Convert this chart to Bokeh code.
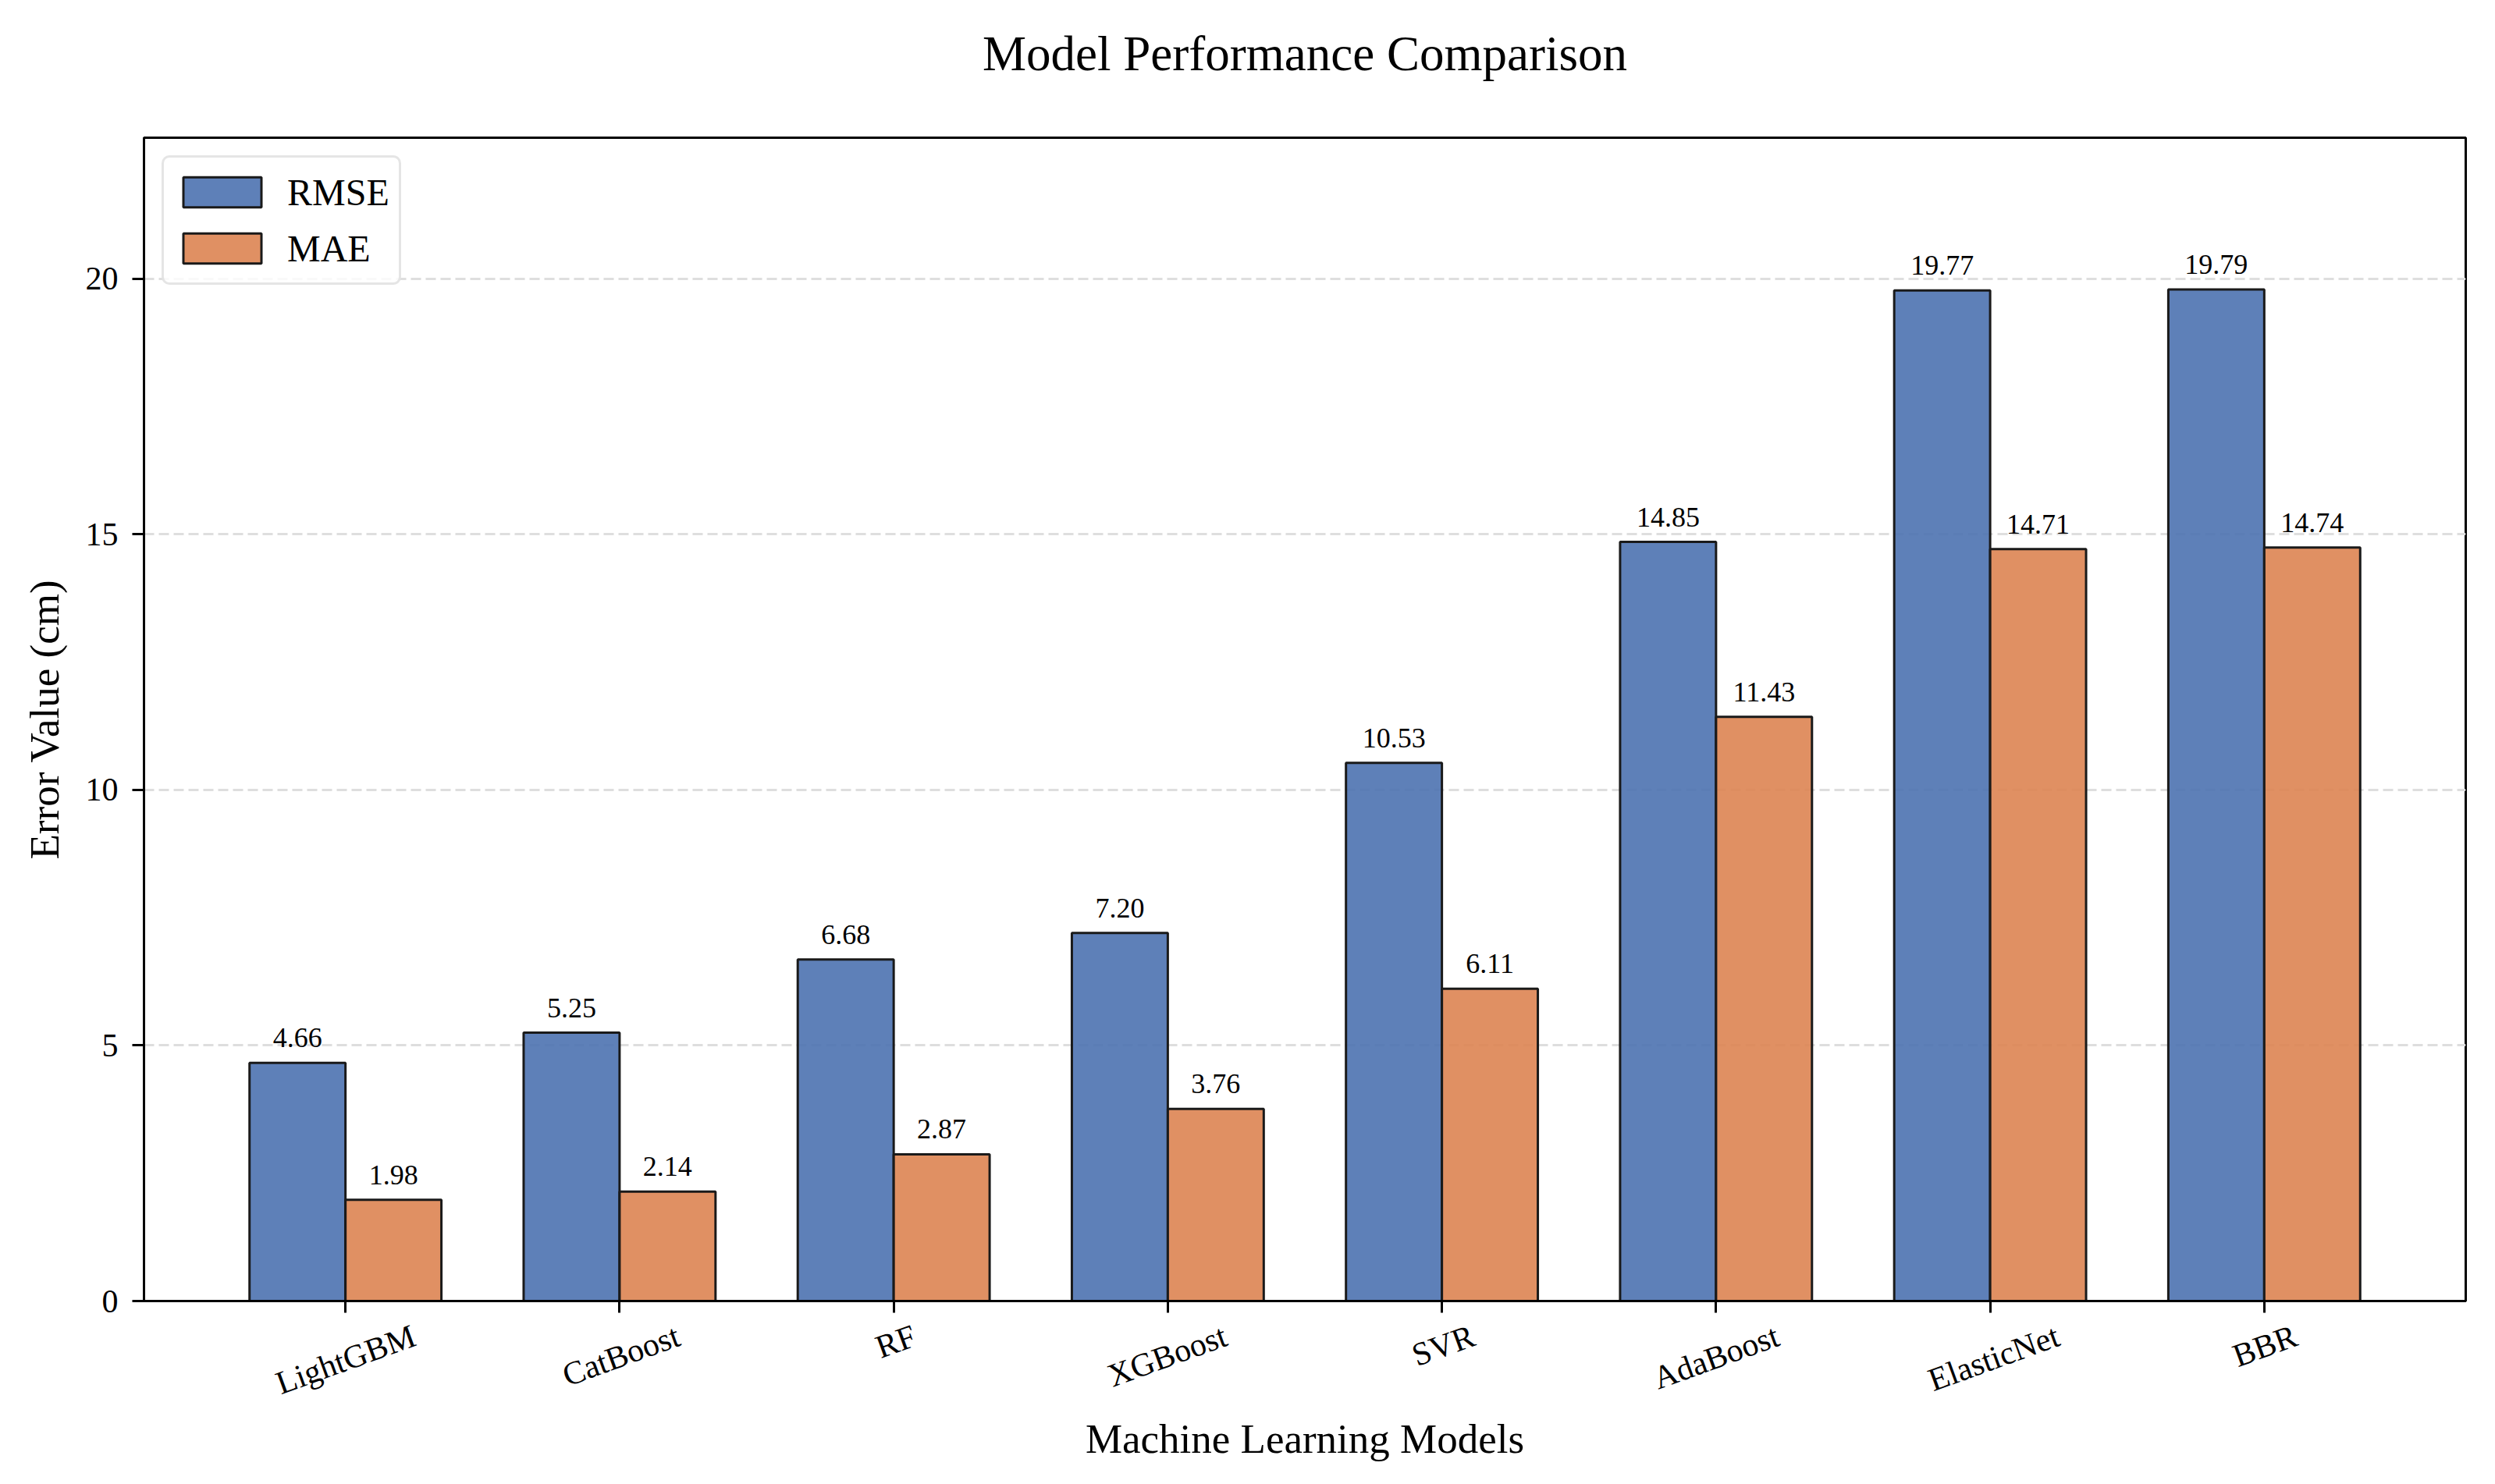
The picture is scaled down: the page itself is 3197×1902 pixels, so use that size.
import math

from bokeh.core.properties import value
from bokeh.embed import file_html
from bokeh.models import ColumnDataSource, FixedTicker, LabelSet, LinearAxis, Range1d, Title
from bokeh.plotting import figure
from bokeh.resources import INLINE

# data
models = ["LightGBM", "CatBoost", "RF", "XGBoost", "SVR", "AdaBoost", "ElasticNet", "BBR"]
rmse_values = [4.66, 5.25, 6.68, 7.20, 10.53, 14.85, 19.77, 19.79]
mae_values = [1.98, 2.14, 2.87, 3.76, 6.11, 11.43, 14.71, 14.74]
series_names = ["RMSE", "MAE"]
y_ticks = [0, 5, 10, 15, 20]

FONT = "Liberation Serif"
BAR_W = 0.35
TICK_SIZE = 42
ANGLE = math.radians(20)
FRAME_W = 2975
FRAME_H = 1491


def est_width(text, size):
    """rough width of a Times-like string"""
    w = 0.0
    for c in text:
        if c in "MW":
            w += 0.9
        elif c.isupper():
            w += 0.68
        elif c in "iltfrj":
            w += 0.29
        else:
            w += 0.47
    return w * size


x_idx = list(range(len(models)))
lo, hi = -BAR_W, len(models) - 1 + BAR_W
pad = 0.05 * (hi - lo)
x_start, x_end = lo - pad, hi + pad
y_max = max(rmse_values + mae_values) * 1.15
px_per_unit = FRAME_W / (x_end - x_start)

p = figure(
    frame_width=FRAME_W, frame_height=FRAME_H,
    x_range=Range1d(x_start, x_end), y_range=Range1d(0, y_max),
    y_axis_label="Error Value (cm)",
    tools="", toolbar_location=None, output_backend="svg",
    min_border_left=184, min_border_right=38, min_border_top=176, min_border_bottom=227,
    background_fill_color="white", border_fill_color="white")

rmse_src = ColumnDataSource(data=dict(
    x=[i - BAR_W / 2 for i in x_idx], top=rmse_values,
    label=["{:.2f}".format(v) for v in rmse_values]))
mae_src = ColumnDataSource(data=dict(
    x=[i + BAR_W / 2 for i in x_idx], top=mae_values,
    label=["{:.2f}".format(v) for v in mae_values]))

p.vbar(x='x', top='top', bottom=0, width=BAR_W, source=rmse_src,
       fill_color="#4C72B0", fill_alpha=0.9, line_color="#1a1a1a", line_width=3,
       legend_label=series_names[0])
p.vbar(x='x', top='top', bottom=0, width=BAR_W, source=mae_src,
       fill_color="#DD8452", fill_alpha=0.9, line_color="#1a1a1a", line_width=3,
       legend_label=series_names[1])

for src in (rmse_src, mae_src):
    p.add_layout(LabelSet(x='x', y='top', text='label', source=src, y_offset=20,
                          text_align='center', text_baseline='alphabetic',
                          text_font=value(FONT), text_font_size=value("36px"),
                          text_color="black"))

# invisible top axis next to the frame (one hidden tick gives it its height),
# then the title above it
spacer = LinearAxis(
    ticker=FixedTicker(ticks=[x_idx[0]]),
    axis_line_color=None, major_tick_line_color=None, minor_tick_line_color=None,
    major_label_text_color=None, major_label_standoff=0,
    major_tick_in=0, major_tick_out=42, minor_tick_in=0, minor_tick_out=0)
p.add_layout(spacer, "above")
p.add_layout(Title(text="Model Performance Comparison", align="center", standoff=61,
                   text_font=FONT, text_font_size="63px", text_font_style="normal",
                   text_color="black"), "above")

# main x axis: tick marks only
main_x = p.below[0]
main_x.ticker = FixedTicker(ticks=x_idx)
main_x.major_label_text_color = None
main_x.major_label_standoff = 0

# label axis: bokeh anchors rotated labels at their right end, so shift the
# anchor by half the text run to centre each label under its tick
label_pos = [round(i + est_width(m, TICK_SIZE) / 2 * math.cos(ANGLE) / px_per_unit, 4)
             for i, m in zip(x_idx, models)]
label_axis = LinearAxis(
    ticker=FixedTicker(ticks=label_pos),
    major_label_overrides=dict(zip(label_pos, models)),
    major_label_orientation=ANGLE,
    major_label_standoff=28,
    axis_label="Machine Learning Models",
    axis_label_standoff=-6,
    axis_line_color=None,
    major_tick_line_color=None, minor_tick_line_color=None,
    major_tick_out=0, minor_tick_out=0, major_tick_in=0, minor_tick_in=0)
p.add_layout(label_axis, "below")

p.yaxis.ticker = FixedTicker(ticks=y_ticks)

for ax in (main_x, label_axis, p.yaxis[0]):
    ax.axis_label_text_font = FONT
    ax.axis_label_text_font_size = "53px"
    ax.axis_label_text_font_style = "normal"
    ax.axis_label_text_color = "black"
    ax.major_label_text_font = FONT
    ax.major_label_text_font_size = "%dpx" % TICK_SIZE

for ax in (main_x, p.yaxis[0]):
    ax.axis_line_color = "black"
    ax.axis_line_width = 3
    ax.major_tick_in = 0
    ax.major_tick_out = 15
    ax.major_tick_line_color = "black"
    ax.major_tick_line_width = 3
    ax.minor_tick_line_color = None

label_axis.major_label_text_color = "black"
p.yaxis.major_label_text_color = "black"
p.yaxis.major_label_standoff = 18
p.yaxis.axis_label_standoff = 21

p.outline_line_color = "black"
p.outline_line_width = 3

p.xgrid.visible = False
p.ygrid.grid_line_color = "#dedede"
p.ygrid.grid_line_width = 3
p.ygrid.grid_line_dash = "13 6"

p.legend.location = "top_left"
p.legend.margin = 23
p.legend.padding = 12
p.legend.spacing = 8
p.legend.glyph_width = 125
p.legend.glyph_height = 48
p.legend.label_height = 64
p.legend.label_standoff = 21
p.legend.label_text_font = FONT
p.legend.label_text_font_size = "48px"
p.legend.label_text_color = "black"
p.legend.border_line_color = "#cccccc"
p.legend.border_line_width = 3
p.legend.background_fill_alpha = 0.8
try:
    p.legend.border_radius = 10
except AttributeError:
    pass

open("out.html", "w").write(file_html(p, INLINE))
